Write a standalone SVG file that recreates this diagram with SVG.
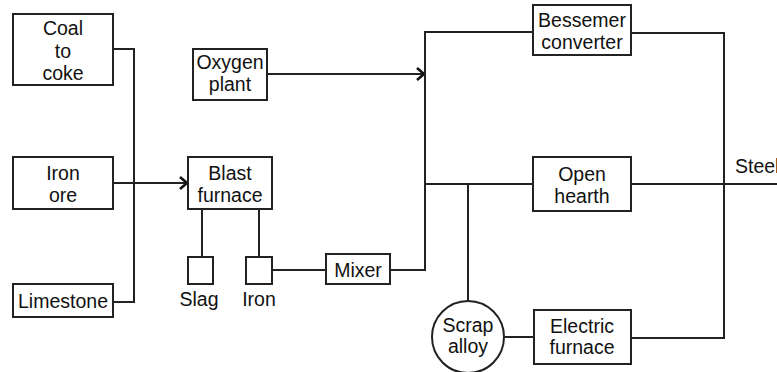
<svg xmlns="http://www.w3.org/2000/svg" width="777" height="372" viewBox="0 0 777 372">
<defs>
<style>
.box{fill:#fff;stroke:#222;stroke-width:2}
.ln{fill:none;stroke:#222;stroke-width:2}
.ar{fill:none;stroke:#111;stroke-width:2.6;stroke-linejoin:miter}
text{font-family:"Liberation Sans",Arial,sans-serif;font-size:19.5px;fill:#111;text-anchor:middle}
</style>
</defs>
<rect width="777" height="372" fill="#fff"/>
<g id="connectors">
<polyline class="ln" points="113,49 134,49 134,302 113,302"/>
<line class="ln" x1="113" y1="183" x2="187" y2="183"/>
<polyline class="ar" points="180,177 187,183 180,189"/>
<line class="ln" x1="267" y1="74" x2="424" y2="74"/>
<polyline class="ar" points="417,68 424,74 417,80"/>
<line class="ln" x1="202" y1="209" x2="202" y2="257"/>
<line class="ln" x1="259" y1="209" x2="259" y2="257"/>
<line class="ln" x1="272" y1="270" x2="326" y2="270"/>
<polyline class="ln" points="390,270 425,270 425,32 533,32"/>
<line class="ln" x1="425" y1="184" x2="533" y2="184"/>
<line class="ln" x1="468" y1="184" x2="468" y2="301"/>
<line class="ln" x1="505" y1="337" x2="534" y2="337"/>
<polyline class="ln" points="631,33 724,33 724,338 631,338"/>
<line class="ln" x1="631" y1="184" x2="777" y2="184"/>
</g>
<g id="coal">
<rect class="box" x="13" y="14" width="100" height="71"/>
<text x="63" y="35">Coal</text>
<text x="63" y="57.5">to</text>
<text x="63" y="80">coke</text>
</g>
<g id="ironore">
<rect class="box" x="13" y="157" width="100" height="52"/>
<text x="63" y="180">Iron</text>
<text x="63" y="202">ore</text>
</g>
<g id="limestone">
<rect class="box" x="13" y="284" width="100" height="33"/>
<text x="63" y="308">Limestone</text>
</g>
<g id="oxygen">
<rect class="box" x="193" y="49" width="74" height="51"/>
<text x="230" y="69">Oxygen</text>
<text x="230" y="91">plant</text>
</g>
<g id="blast">
<rect class="box" x="188" y="157" width="84" height="52"/>
<text x="230" y="180">Blast</text>
<text x="230" y="202">furnace</text>
</g>
<g id="slag">
<rect class="box" x="188" y="257" width="25" height="27"/>
<text x="199" y="306">Slag</text>
</g>
<g id="iron">
<rect class="box" x="246" y="257" width="26" height="27"/>
<text x="259" y="306">Iron</text>
</g>
<g id="mixer">
<rect class="box" x="326" y="254" width="64" height="30"/>
<text x="358" y="277">Mixer</text>
</g>
<g id="bessemer">
<rect class="box" x="533" y="5" width="98" height="50"/>
<text x="582" y="27">Bessemer</text>
<text x="582" y="49">converter</text>
</g>
<g id="openhearth">
<rect class="box" x="533" y="157" width="98" height="54"/>
<text x="582" y="181">Open</text>
<text x="582" y="203">hearth</text>
</g>
<g id="scrap">
<circle class="box" cx="468" cy="337" r="36"/>
<text x="468" y="332">Scrap</text>
<text x="468" y="353">alloy</text>
</g>
<g id="electric">
<rect class="box" x="534" y="310" width="97" height="54"/>
<text x="582" y="333">Electric</text>
<text x="582" y="354">furnace</text>
</g>
<g id="steel">
<text x="735" y="173" style="text-anchor:start">Steel</text>
</g>
</svg>
